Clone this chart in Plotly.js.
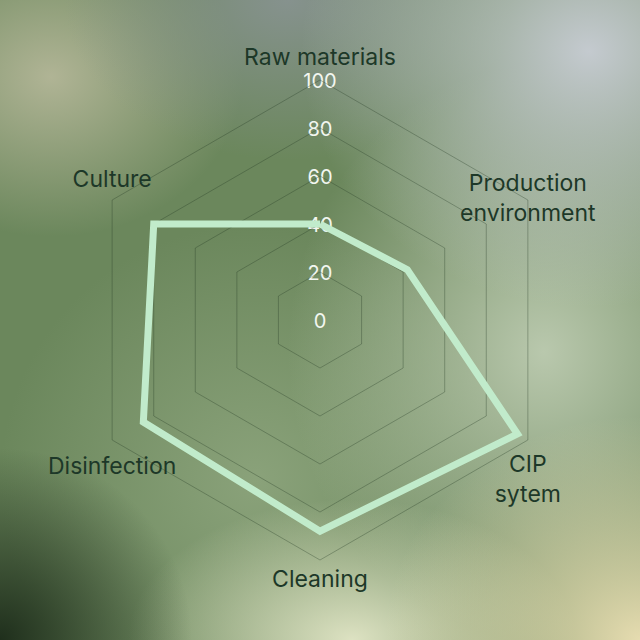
<!DOCTYPE html>
<html>
<head>
<meta charset="utf-8">
<script src="https://cdn.plot.ly/plotly-3.0.1.min.js"></script>
<style>
    html, body {
        margin: 0;
        padding: 0;
        width: 640px;
        height: 640px;
        overflow: hidden;
    }

    body {
        background:
            radial-gradient(ellipse 30% 30% at 0% 100%, #1f2f1c 0%, rgba(31, 47, 28, 0) 100%),
            radial-gradient(ellipse 40% 35% at 100% 100%, #e6dcb0 0%, rgba(230, 220, 176, 0) 100%),
            radial-gradient(ellipse 35% 22% at 55% 100%, #dde2c2 0%, rgba(221, 226, 194, 0) 100%),
            radial-gradient(ellipse 45% 40% at 92% 8%, #c4cacf 0%, rgba(196, 202, 207, 0) 100%),
            radial-gradient(ellipse 35% 25% at 45% 0%, #86928e 0%, rgba(134, 146, 142, 0) 100%),
            radial-gradient(ellipse 30% 25% at 8% 12%, #b0b495 0%, rgba(176, 180, 149, 0) 100%),
            radial-gradient(ellipse 40% 45% at 85% 55%, #b9c8ad 0%, rgba(185, 200, 173, 0) 100%),
            radial-gradient(ellipse 40% 40% at 40% 75%, #8aa27a 0%, rgba(138, 162, 122, 0) 100%),
            #6b875c;
    }

    #grafico-radar {
        width: 640px;
        height: 640px;
    }
</style>
</head>
<body>
<div id="grafico-radar"></div>

<script>
/* ============================================================================
 * Data
 * ========================================================================== */

const categorias = [
    "Raw materials",
    "Production<br>environment",
    "CIP<br>sytem",
    "Cleaning",
    "Disinfection",
    "Culture"
];

const valores = [40, 42, 95, 88, 85, 80];

const ticks = [0, 20, 40, 60, 80, 100];


/* ============================================================================
 * Styles
 * ========================================================================== */

const COLOR_LINEA = "#c1ebcb";
const COLOR_GRID = "rgba(35, 55, 35, 0.32)";
const COLOR_ETIQUETA = "#1d3828";
const FUENTE = "Inter, 'Noto Sans', sans-serif";


/* ============================================================================
 * Chart
 * ========================================================================== */

function ejeAngular(extra) {
    return Object.assign({
        type: "category",
        categoryarray: categorias,
        direction: "clockwise",
        rotation: 90,
        showticklabels: false,
        ticks: "",
        showgrid: false
    }, extra);
}

function crearRadar() {

    const rMax = ticks[ticks.length - 1];

    // Radial labels, centred on the top spoke. They sit on a circular,
    // invisible polar so the "0" at the centre is not clipped away.
    const traceTicks = {
        type: "scatterpolar",
        subplot: "polar",
        mode: "text",
        r: ticks,
        theta: ticks.map(() => categorias[0]),
        text: ticks.map(String),
        textposition: "middle center",
        textfont: { family: FUENTE, size: 20, color: "#f2f6f0" },
        cliponaxis: false,
        hoverinfo: "skip",
        showlegend: false
    };

    // Closed polygon of the series
    const traceSerie = {
        type: "scatterpolar",
        subplot: "polar2",
        mode: "lines",
        r: valores.concat(valores[0]),
        theta: categorias.concat(categorias[0]),
        line: { color: COLOR_LINEA, width: 7 },
        hoverinfo: "skip",
        showlegend: false
    };

    // Category labels next to the outer vertices
    const traceCategorias = {
        type: "scatterpolar",
        subplot: "polar2",
        mode: "markers+text",
        r: categorias.map(() => rMax),
        theta: categorias,
        text: categorias,
        textposition: [
            "top center",
            "middle center",
            "bottom center",
            "bottom center",
            "bottom center",
            "top center"
        ],
        marker: { size: [13, 10, 22, 14, 25, 10], opacity: 0 },
        textfont: { family: FUENTE, size: 23, color: COLOR_ETIQUETA },
        cliponaxis: false,
        hoverinfo: "skip",
        showlegend: false
    };

    const layout = {
        width: 640,
        height: 640,
        margin: { l: 0, r: 0, t: 0, b: 0 },
        paper_bgcolor: "rgba(0,0,0,0)",
        plot_bgcolor: "rgba(0,0,0,0)",
        showlegend: false,

        // labels layer (nudged a few px down, like the reference)
        polar: {
            domain: { x: [0.125, 0.875], y: [0.12, 0.87] },
            bgcolor: "rgba(0,0,0,0)",
            radialaxis: {
                range: [-0.01, rMax],
                visible: false
            },
            angularaxis: ejeAngular({ showline: false })
        },

        // hexagonal grid, series and category names
        polar2: {
            domain: { x: [0.125, 0.875], y: [0.125, 0.875] },
            bgcolor: "rgba(0,0,0,0)",
            gridshape: "linear",
            radialaxis: {
                range: [0, rMax],
                tickvals: ticks,
                showticklabels: false,
                ticks: "",
                showline: false,
                gridcolor: COLOR_GRID,
                gridwidth: 1
            },
            angularaxis: ejeAngular({
                showline: true,
                linecolor: COLOR_GRID,
                linewidth: 1
            })
        }
    };

    Plotly.newPlot(
        "grafico-radar",
        [traceTicks, traceSerie, traceCategorias],
        layout,
        { staticPlot: true, displayModeBar: false }
    );
}


/* ============================================================================
 * Init
 * ========================================================================== */

document.addEventListener("DOMContentLoaded", () => {

    crearRadar();

});
</script>
</body>
</html>
